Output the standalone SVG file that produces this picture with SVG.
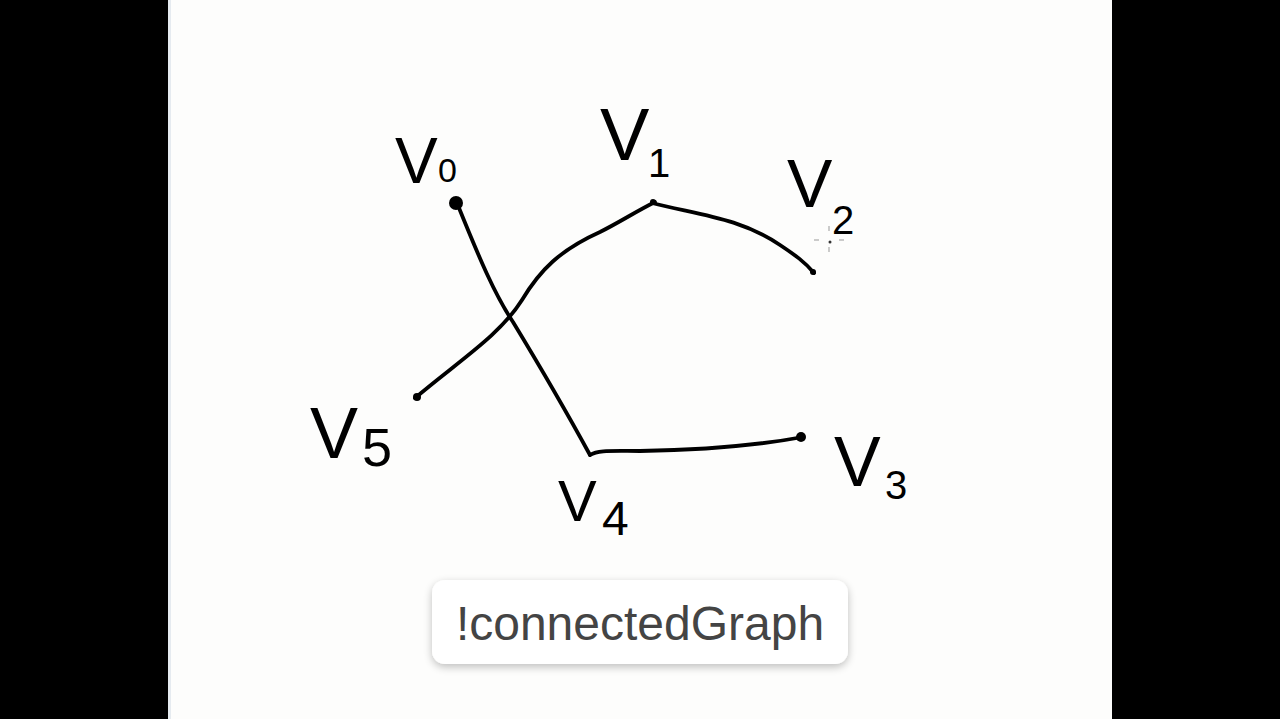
<svg xmlns="http://www.w3.org/2000/svg" width="1280" height="719" viewBox="0 0 1280 719">
<defs>
<style>
.edge{fill:none;stroke:#000;stroke-width:3.8;stroke-linecap:round;stroke-linejoin:round}
.lbl{font-family:"Liberation Sans",Arial,sans-serif;fill:#000}
.v{font-size:68px}
.sub{font-size:40px}
.btn{font-family:"Liberation Sans",Arial,sans-serif;font-size:48px;fill:#444}
</style>
<filter id="sh" x="-10%" y="-30%" width="120%" height="160%">
<feGaussianBlur in="SourceAlpha" stdDeviation="4"/>
<feOffset dy="3"/>
<feComponentTransfer><feFuncA type="linear" slope="0.25"/></feComponentTransfer>
<feMerge><feMergeNode/><feMergeNode in="SourceGraphic"/></feMerge>
</filter>
</defs>
<rect x="0" y="0" width="1280" height="719" fill="#000"/>
<rect x="168" y="0" width="944" height="719" fill="#fdfdfc"/>
<rect x="168" y="0" width="3" height="719" fill="#e6ebf0"/>

<g id="connectors">
<path class="edge" d="M457,203 C480,260 495,295 513,322 C530,350 560,400 590,455"/>
<path class="edge" d="M655,202 C635,212 620,222 600,232 C560,250 540,270 522,300 C500,335 460,360 415,398"/>
<path class="edge" d="M652,203 C700,215 740,218 780,245 C795,255 805,262 814,273"/>
<path class="edge" d="M590,455 C598,450 610,451 640,451 C700,450 760,445 803,437"/>
</g>

<g id="V0">
<circle cx="456" cy="203" r="7" fill="#000"/>
<text class="lbl v" x="395" y="183" style="font-size:64px">V</text>
<text class="lbl sub" x="438" y="182" style="font-size:34px">0</text>
</g>
<g id="V1">
<circle cx="653" cy="202" r="3" fill="#000"/>
<text class="lbl v" x="600" y="160" style="font-size:74px">V</text>
<text class="lbl sub" x="648" y="177">1</text>
</g>
<g id="V2">
<circle cx="813" cy="272" r="3" fill="#000"/>
<text class="lbl v" x="787" y="207">V</text>
<text class="lbl sub" x="832" y="234">2</text>
<g stroke="#999" stroke-width="1">
<line x1="829" y1="226" x2="829" y2="231"/>
<line x1="829" y1="247" x2="829" y2="252"/>
<line x1="814" y1="240" x2="819" y2="240"/>
<line x1="839" y1="240" x2="844" y2="240"/>
</g>
<circle cx="830" cy="242" r="1.5" fill="#333"/>
</g>
<g id="V3">
<circle cx="801" cy="437" r="5" fill="#000"/>
<text class="lbl v" x="834" y="486" style="font-size:70px">V</text>
<text class="lbl sub" x="885" y="499">3</text>
</g>
<g id="V4">
<text class="lbl v" x="558" y="521" style="font-size:58px">V</text>
<text class="lbl sub" x="602" y="535" style="font-size:48px">4</text>
</g>
<g id="V5">
<circle cx="417" cy="397" r="4" fill="#000"/>
<text class="lbl v" x="310" y="458" style="font-size:72px">V</text>
<text class="lbl sub" x="362" y="466" style="font-size:54px">5</text>
</g>

<g id="caption">
<rect x="432" y="580" width="416" height="84" rx="13" fill="#fff" filter="url(#sh)"/>
<text class="btn" x="640" y="640" text-anchor="middle">!connectedGraph</text>
</g>
</svg>
